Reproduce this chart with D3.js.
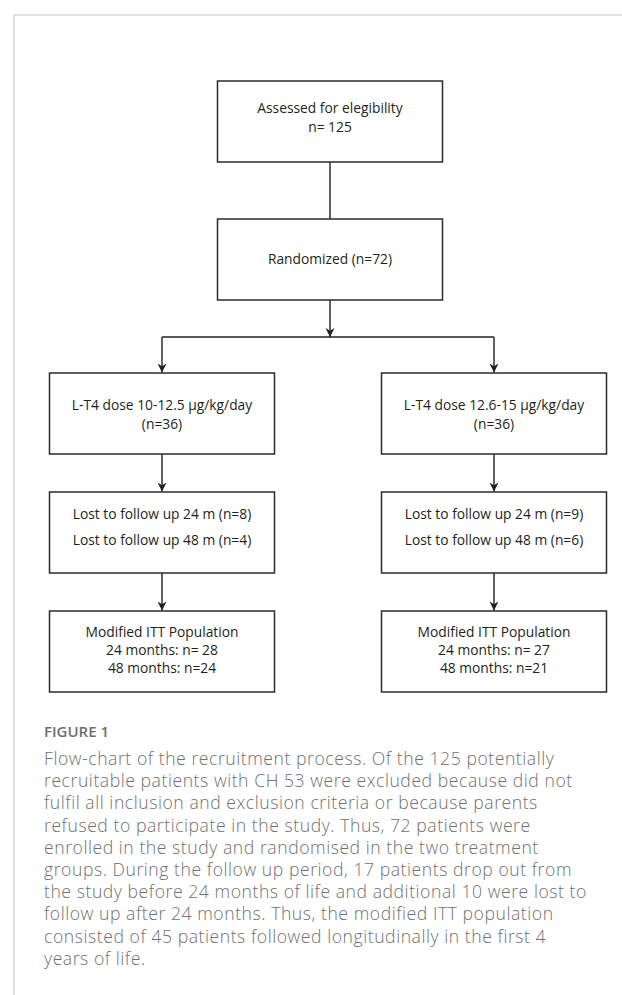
<!DOCTYPE html>
<html>
<head>
<meta charset="utf-8">
<script src="https://cdn.jsdelivr.net/npm/d3@7"></script>
<style>
  html, body { margin: 0; padding: 0; background: #fff; }
  svg { display: block; }
</style>
</head>
<body>
<svg id="chart" width="622" height="995"></svg>
<script>
// ---------------- data ----------------
const stages = ["assessed", "randomized", "allocated", "lost", "itt"];
const columns = ["left", "center", "right"];
const armColumns = ["left", "right"];
const assessedLines = ["Assessed for elegibility", "n= 125"];
const randomizedN = 72;
const armDoses = ["10-12.5", "12.6-15"];
const armN = [36, 36];
const lost24 = [8, 9];
const lost48 = [4, 6];
const itt24 = [28, 27];
const itt48 = [24, 21];
const figureLabel = "FIGURE 1";
const captionLines = [
  "Flow-chart of the recruitment process. Of the 125 potentially",
  "recruitable patients with CH 53 were excluded because did not",
  "fulfil all inclusion and exclusion criteria or because parents",
  "refused to participate in the study. Thus, 72 patients were",
  "enrolled in the study and randomised in the two treatment",
  "groups. During the follow up period, 17 patients drop out from",
  "the study before 24 months of life and additional 10 were lost to",
  "follow up after 24 months. Thus, the modified ITT population",
  "consisted of 45 patients followed longitudinally in the first 4",
  "years of life."
];

// ---------------- build nodes ----------------
const nodes = [
  { id: "assessed", stage: "assessed", col: "center", lines: assessedLines },
  { id: "randomized", stage: "randomized", col: "center", lines: [`Randomized (n=${randomizedN})`] }
];
armColumns.forEach((c, i) => {
  nodes.push({ id: "alloc-" + c, stage: "allocated", col: c,
    lines: [`L-T4 dose ${armDoses[i]} µg/kg/day`, `(n=${armN[i]})`] });
  nodes.push({ id: "lost-" + c, stage: "lost", col: c,
    lines: [`Lost to follow up 24 m (n=${lost24[i]})`, `Lost to follow up 48 m (n=${lost48[i]})`] });
  nodes.push({ id: "itt-" + c, stage: "itt", col: c,
    lines: ["Modified ITT Population", `24 months: n= ${itt24[i]}`, `48 months: n=${itt48[i]}`] });
});

// ---------------- scales / layout ----------------
const x = d3.scaleOrdinal().domain(columns).range([162, 330, 494]);
const yTop = d3.scaleOrdinal().domain(stages).range([81, 219, 373, 492, 611]);
const boxW = 225, boxH = 81;
const textLayout = {
  assessed:   { first: 32, lh: 19 },
  randomized: { first: 45, lh: 19 },
  allocated:  { first: 37, lh: 19 },
  lost:       { first: 27, lh: 26 },
  itt:        { first: 26, lh: 18 }
};
const splitY = 337;

const svg = d3.select("#chart");
const ink = "#231f20";

// frame
svg.append("path")
  .attr("d", "M14,995 V15 H622")
  .attr("fill", "none")
  .attr("stroke", "#d6d6d6")
  .attr("stroke-width", 1.5);

// arrow marker
svg.append("defs").append("marker")
  .attr("id", "arrow")
  .attr("viewBox", "0 0 10 10")
  .attr("refX", 10).attr("refY", 5)
  .attr("markerWidth", 9).attr("markerHeight", 9)
  .attr("markerUnits", "userSpaceOnUse")
  .attr("orient", "auto")
  .append("path")
  .attr("d", "M0,0 L10,5 L0,10 L3,5 Z")
  .attr("fill", ink);

const links = svg.append("g").attr("fill", "none").attr("stroke", ink).attr("stroke-width", 1.4);

// assessed -> randomized (plain line)
links.append("line")
  .attr("x1", x("center")).attr("y1", yTop("assessed") + boxH)
  .attr("x2", x("center")).attr("y2", yTop("randomized"));

// randomized -> split point (arrow)
links.append("line")
  .attr("x1", x("center")).attr("y1", yTop("randomized") + boxH)
  .attr("x2", x("center")).attr("y2", splitY)
  .attr("marker-end", "url(#arrow)");

// horizontal split
links.append("line")
  .attr("x1", x("left")).attr("y1", splitY)
  .attr("x2", x("right")).attr("y2", splitY);

// vertical arrows in each arm
const armSteps = [["split", "allocated"], ["allocated", "lost"], ["lost", "itt"]];
armColumns.forEach(c => {
  armSteps.forEach(([from, to]) => {
    const y1 = from === "split" ? splitY : yTop(from) + boxH;
    links.append("line")
      .attr("x1", x(c)).attr("y1", y1)
      .attr("x2", x(c)).attr("y2", yTop(to) - 0.5)
      .attr("marker-end", "url(#arrow)");
  });
});

// boxes
const box = svg.append("g").selectAll("g.node")
  .data(nodes)
  .join("g")
  .attr("class", "node")
  .attr("transform", d => `translate(${x(d.col) - boxW / 2},${yTop(d.stage)})`);

box.append("rect")
  .attr("width", boxW).attr("height", boxH)
  .attr("fill", "#fff")
  .attr("stroke", "#2b2b2b")
  .attr("stroke-width", 1.5);

box.each(function (d) {
  const L = textLayout[d.stage];
  d3.select(this).selectAll("text")
    .data(d.lines)
    .join("text")
    .attr("x", boxW / 2)
    .attr("y", (t, i) => L.first + i * L.lh)
    .attr("text-anchor", "middle")
    .attr("font-family", "'Open Sans', sans-serif")
    .attr("font-size", 13.8)
    .attr("fill", ink)
    .text(t => t);
});

// caption
svg.append("text")
  .attr("x", 44).attr("y", 737)
  .attr("font-family", "'Open Sans', sans-serif")
  .attr("font-size", 15)
  .attr("font-weight", 600)
  .attr("fill", "#6e6e6e")
  .text(figureLabel);

svg.append("g").selectAll("text")
  .data(captionLines)
  .join("text")
  .attr("x", 44)
  .attr("y", (t, i) => 765 + i * 22.2)
  .attr("font-family", "'Open Sans', sans-serif")
  .attr("font-size", 17.6)
  .attr("letter-spacing", 0.55)
  .attr("font-weight", 300)
  .attr("fill", "#707070")
  .text(t => t);
</script>
</body>
</html>
